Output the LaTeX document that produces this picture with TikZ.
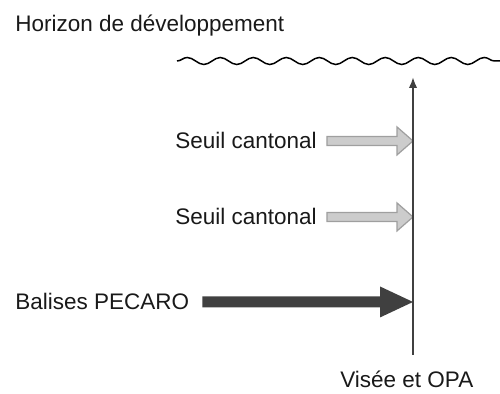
\documentclass[tikz,border=0pt]{standalone}
\usepackage{fontspec}
\setmainfont{Liberation Sans}
\usetikzlibrary{calc,arrows.meta,decorations.pathmorphing}

\begin{document}
\begin{tikzpicture}[x=0.02cm, y=-0.02cm,
    every node/.style={inner sep=0, anchor=base west, text=black!90, font=\fontsize{12.8}{15}\selectfont},
    seuil/.style={draw=gray!75, fill=gray!40, line width=0.7pt},
    balise/.style={fill=black!75},
    axe/.style={draw=black!75, line width=1.1pt, -{Latex[length=0.22cm, width=0.17cm]}},
    vague/.style={decorate, decoration={snake, amplitude=0.07cm, segment length=0.66cm}, line width=0.85pt}]
        \useasboundingbox (0,0) rectangle (500,394);
        % textes
        \node (horizon) at (15,32) {Horizon de développement};
        \node (seuilA) at (175,149) {Seuil cantonal};
        \node (seuilB) at (175,225) {Seuil cantonal};
        \node (balises) at (15,310) {Balises PECARO};
        \node (visee) at (340,388) {Visée et OPA};
        % axe et horizon
        \coordinate (bas) at (413,355);
        \coordinate (haut) at (413,77);
        \coordinate (vagueG) at (177,61);
        \coordinate (vagueD) at (500,61);
        \coordinate (pointeA) at (seuilA.east -| haut);
        \coordinate (pointeB) at (seuilB.east -| haut);
        \coordinate (pointeC) at (balises.east -| haut);
        % fleches
        \filldraw[seuil] ($(seuilA.east)+(10,-4.5)$) -- ($(pointeA)+(-16,-4.5)$) -- ($(pointeA)+(-16,-14)$) -- (pointeA)
            -- ($(pointeA)+(-16,14)$) -- ($(pointeA)+(-16,4.5)$) -- ($(seuilA.east)+(10,4.5)$) -- cycle;
        \filldraw[seuil] ($(seuilB.east)+(10,-4.5)$) -- ($(pointeB)+(-16,-4.5)$) -- ($(pointeB)+(-16,-14)$) -- (pointeB)
            -- ($(pointeB)+(-16,14)$) -- ($(pointeB)+(-16,4.5)$) -- ($(seuilB.east)+(10,4.5)$) -- cycle;
        \fill[balise] ($(balises.east)+(13,-5.5)$) -- ($(pointeC)+(-33,-5.5)$) -- ($(pointeC)+(-33,-15.5)$) -- (pointeC)
            -- ($(pointeC)+(-33,15.5)$) -- ($(pointeC)+(-33,5.5)$) -- ($(balises.east)+(13,5.5)$) -- cycle;
        \draw[axe] (bas) -- (haut);
        \draw[vague] (vagueG) -- (vagueD);
    \end{tikzpicture}
\end{document}
